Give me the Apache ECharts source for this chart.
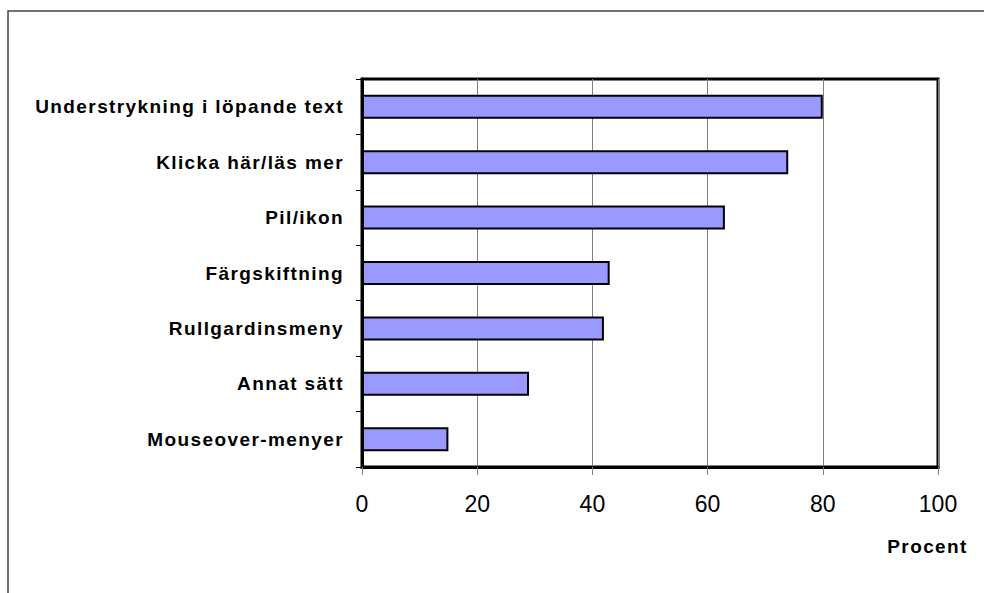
<!DOCTYPE html>
<html>
<head>
<meta charset="utf-8">
<style>
  html, body { margin: 0; padding: 0; background: #fff; }
  #chart { width: 984px; height: 593px; }
  /* the bold labels are set a little wider than the plain font */
  #chart text { letter-spacing: 1.4px; }
  /* numeric tick labels keep normal spacing */
  #chart text[text-anchor="middle"] { letter-spacing: 0; }
</style>
<script src="https://cdn.jsdelivr.net/npm/echarts@6/dist/echarts.min.js"></script>
</head>
<body>
<div id="chart"></div>
<script>
// Ways of marking a link, share of respondents in percent
const categories = [
  'Understrykning i löpande text',
  'Klicka här/läs mer',
  'Pil/ikon',
  'Färgskiftning',
  'Rullgardinsmeny',
  'Annat sätt',
  'Mouseover-menyer'
];
const values = [80, 74, 63, 43, 42, 29, 15];
const xTicks = [0, 20, 40, 60, 80, 100];
const xAxisTitle = 'Procent';

const FONT = '"Liberation Sans", Arial, sans-serif';

const chart = echarts.init(document.getElementById('chart'), null, { renderer: 'svg' });

chart.setOption({
  animation: false,
  backgroundColor: '#ffffff',
  grid: {
    left: 362, top: 79, right: 46, bottom: 126,
    show: true,
    borderColor: '#000000',
    borderWidth: 3,
    backgroundColor: 'transparent'
  },
  xAxis: {
    type: 'value',
    min: xTicks[0],
    max: xTicks[xTicks.length - 1],
    interval: 20,
    axisLine: { show: true, lineStyle: { color: '#000000', width: 3 } },
    axisTick: { show: true, length: 8, lineStyle: { color: '#808080', width: 1 } },
    splitLine: { show: true, lineStyle: { color: '#808080', width: 1 } },
    axisLabel: {
      color: '#000000', fontFamily: FONT, fontSize: 23, margin: 25,
      formatter: v => xTicks.includes(v) ? String(v) : ''
    }
  },
  yAxis: {
    type: 'category',
    data: categories,
    inverse: true,
    axisLine: { show: true, lineStyle: { color: '#000000', width: 3 } },
    axisTick: { show: true, length: 6, lineStyle: { color: '#000000', width: 1 } },
    splitLine: { show: false },
    axisLabel: {
      color: '#000000', fontFamily: FONT, fontSize: 19, fontWeight: 'bold', margin: 18
    }
  },
  series: [{
    type: 'bar',
    data: values,
    barWidth: 24,
    itemStyle: { color: '#9999ff', borderColor: '#000000', borderWidth: 2 },
    z: 3
  }],
  graphic: [
    {
      type: 'rect',
      shape: { x: 8, y: 11, width: 1100, height: 1000 },
      style: { fill: 'none', stroke: '#444444', lineWidth: 1.5 },
      silent: true
    },
    {
      type: 'text',
      right: 26,
      top: 537,
      style: {
        text: xAxisTitle,
        fill: '#000000',
        font: 'bold 19px ' + FONT
      }
    }
  ]
});
</script>
</body>
</html>
